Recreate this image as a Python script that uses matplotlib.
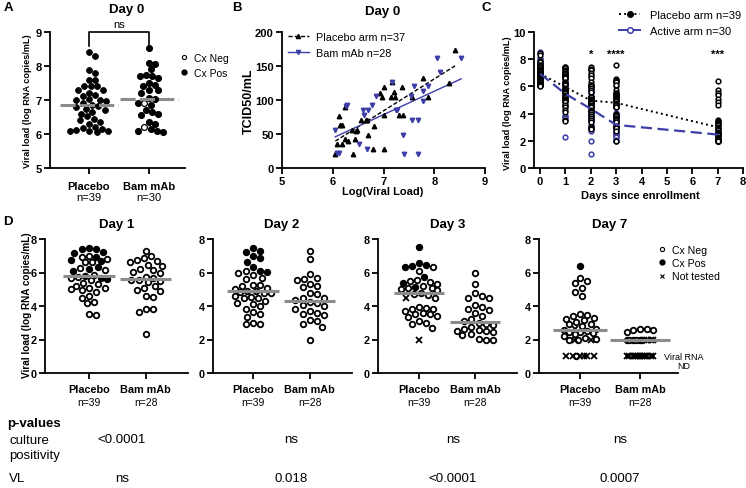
import numpy as np
import matplotlib
matplotlib.use("Agg")
import matplotlib.pyplot as plt
from matplotlib.lines import Line2D

plt.rcParams['font.family'] = ['Liberation Sans', 'DejaVu Sans']

W, H = 746, 489
BLUE = '#3d3da8'
GREY = '#8c8c8c'

# ---------------- data ----------------
groups = ["Placebo", "Bam mAb"]

# panel A, day 0 viral load (log RNA copies/mL)
a_placebo = [8.42, 8.3, 7.88, 7.8, 7.6, 7.58, 7.42, 7.42, 7.4, 7.3, 7.28, 7.22, 7.15,
             7.12, 7.02, 7.0, 7.0, 6.98, 6.92, 6.85, 6.82, 6.8, 6.75, 6.7, 6.65, 6.6,
             6.52, 6.45, 6.42, 6.35, 6.3, 6.2, 6.18, 6.15, 6.12, 6.1, 6.1, 6.08, 6.05]
a_placebo_cx = "P" * 39
a_bam = [8.52, 8.08, 8.05, 7.9, 7.75, 7.7, 7.7, 7.65, 7.5, 7.45, 7.4, 7.3, 7.28, 7.22,
         7.05, 7.02, 6.9, 6.92, 6.85, 6.7, 6.65, 6.6, 6.55, 6.35, 6.28, 6.2, 6.15, 6.1,
         6.08, 6.05]
a_bam_cx = "P" * 17 + "N" + "P" * 7 + "N" + "P" * 4
a_n = ["n=39", "n=30"]

# panel B, TCID50/mL vs log viral load
b_placebo_vl = [8.41, 8.29, 7.77, 7.87, 7.56, 7.36, 7.22, 7.15, 7.20, 7.17, 7.00, 6.97, 6.93,
                7.00, 7.30, 7.38, 6.82, 6.70, 7.00, 6.80, 6.65, 6.68, 6.55, 6.44, 6.48, 6.38,
                6.25, 6.18, 6.08, 6.12, 6.15, 6.19, 6.05, 6.40, 6.25, 6.45, 6.30]
b_placebo_tcid = [174, 125, 133, 105, 105, 119, 105, 105, 112, 126, 119, 105, 111,
                  78, 78, 78, 62, 49, 28, 28, 70, 70, 70, 43, 56, 56,
                  43, 35, 35, 77, 63, 63, 21, 21, 90, 55, 40]
b_bam_vl = [8.53, 8.05, 8.12, 7.88, 7.78, 7.78, 7.60, 7.55, 7.57, 7.68, 7.38, 7.40, 7.68,
            7.24, 7.27, 7.17, 6.85, 6.78, 6.70, 6.60, 6.62, 6.68, 6.52, 6.28, 6.26, 6.05,
            6.08, 6.12]
b_bam_tcid = [162, 162, 141, 120, 113, 99, 120, 106, 70, 70, 49, 21, 21,
              85, 85, 127, 106, 92, 85, 85, 78, 28, 35, 92, 91, 56,
              22, 22]

# panel D, days 1/2/3/7  (cx: P = culture pos, N = culture neg, X = not tested)
d1_placebo = [7.45, 7.42, 7.38, 7.2, 7.15, 7.0, 6.95, 6.9, 6.8, 6.75, 6.7, 6.65, 6.6, 6.3,
              6.25, 6.2, 6.15, 6.1, 5.85, 5.8, 5.75, 5.7, 5.65, 5.6, 5.55, 5.35, 5.3, 5.2,
              5.05, 5.05, 5.0, 4.95, 4.85, 4.6, 4.45, 4.25, 4.15, 3.5, 3.45]
d1_placebo_cx = "PPPPP" + "NPNNPPNNPNPNP" + "NPNPNPN" + "N" * 14
d1_bam = [7.3, 7.0, 6.85, 6.75, 6.7, 6.65, 6.45, 6.4, 6.2, 6.15, 6.05, 5.95, 5.75, 5.65,
          5.55, 5.55, 5.5, 5.45, 5.2, 5.05, 4.95, 4.9, 4.6, 4.55, 3.85, 3.8, 3.65, 2.3]
d1_bam_cx = "N" * 28

d2_placebo = [7.45, 7.3, 7.2, 7.0, 6.85, 6.65, 6.3, 6.1, 6.1, 6.05, 6.0, 5.85, 5.7, 5.6,
              5.25, 5.25, 5.2, 5.1, 5.0, 4.92, 4.9, 4.85, 4.8, 4.75, 4.6, 4.55, 4.5, 4.45,
              4.3, 4.2, 4.1, 4.0, 3.85, 3.65, 3.5, 3.35, 3.0, 2.95, 2.9]
d2_placebo_cx = "PPPPPPPP" + "N" + "P" + "N" * 29
d2_bam = [7.3, 6.8, 5.9, 5.65, 5.6, 5.55, 5.3, 5.2, 5.15, 4.75, 4.7, 4.5, 4.45, 4.35,
          4.25, 4.2, 4.05, 4.0, 3.85, 3.7, 3.6, 3.55, 3.45, 3.15, 3.1, 2.9, 2.75, 2.0]
d2_bam_cx = "N" * 28

d3_placebo = [7.55, 6.55, 6.45, 6.4, 6.35, 6.3, 6.1, 5.75, 5.55, 5.5, 5.45, 5.35, 5.3, 5.2,
              5.15, 5.1, 5.05, 5.0, 4.95, 4.8, 4.7, 4.65, 4.5, 4.45, 3.95, 3.9, 3.85, 3.8,
              3.7, 3.6, 3.55, 3.5, 3.4, 3.35, 3.1, 3.0, 2.95, 2.7, 2.0]
d3_placebo_cx = "PPPPNPNPNNNPNNP" + "N" * 7 + "X" + "N" * 15 + "X"
d3_bam = [6.0, 5.3, 4.75, 4.6, 4.5, 4.45, 4.05, 3.95, 3.85, 3.75, 3.6, 3.4, 3.2, 3.1,
          3.0, 2.95, 2.85, 2.75, 2.6, 2.55, 2.5, 2.5, 2.45, 2.3, 2.25, 2.05, 2.0, 2.0]
d3_bam_cx = "N" * 28

d7_placebo = [6.4, 5.7, 5.5, 5.35, 5.1, 4.85, 4.6, 3.5, 3.45, 3.4, 3.3, 3.2, 3.15, 3.05,
              2.95, 2.9, 2.8, 2.65, 2.6, 2.55, 2.5, 2.45, 2.45, 2.4, 2.3, 2.2, 2.1, 2.05,
              2.0, 2.0, 2.0, 2.0, 1.0, 1.0, 1.0, 1.0, 1.0, 1.0, 1.0]
d7_placebo_cx = "P" + "N" * 17 + "X" + "N" * 11 + "XX" + "XXXXXX" + "N"
d7_bam = [2.6, 2.6, 2.55, 2.55, 2.45] + [2.0] * 10 + [1.0] * 13
d7_bam_cx = "NNNNN" + "NXNXNXNXNN" + "X" * 13

d_days = ["Day 1", "Day 2", "Day 3", "Day 7"]
d_n = ["n=39", "n=28"]

# panel C, summary lines and extra point
c_days = [0, 1, 2, 3, 7]
c_placebo_trend = [6.93, 5.95, 4.96, 4.79, 3.0]
c_active_trend = [6.93, 5.45, 4.35, 3.17, 2.46]
c_day2_active_extra = [1.0]
c_stars = {2: "*", 3: "****", 7: "***"}

# p-value table
p_culture = ["<0.0001", "ns", "ns", "ns"]
p_vl = ["ns", "0.018", "<0.0001", "0.0007"]


# ---------------- helpers ----------------
def rect(l, t, r, b):
    return [l / W, 1 - b / H, (r - l) / W, (b - t) / H]


def style(ax, xt, yt, xl=None, yl=None, size=8):
    for s in ('top', 'right'):
        ax.spines[s].set_visible(False)
    for s in ('left', 'bottom'):
        ax.spines[s].set_linewidth(1.3)
    ax.tick_params(direction='out', length=4, width=1.3, pad=2)
    ax.set_xticks(xt)
    ax.set_xticklabels(xl if xl is not None else [str(v) for v in xt],
                       fontweight='bold', fontsize=size)
    ax.set_yticks(yt)
    ax.set_yticklabels(yl if yl is not None else [str(v) for v in yt],
                       fontweight='bold', fontsize=size)


def swarm_x(ax, center, vals, diam, half):
    tr = ax.transData
    vals = np.asarray(vals, float)
    pts = tr.transform(np.column_stack([np.full(len(vals), center), vals]))
    y_px = pts[:, 1]
    x0 = pts[0, 0]
    step = diam / 4
    cands = [0.0]
    for g in np.arange(step, half + 1e-6, step):
        cands += [g, -g]
    off = np.zeros(len(vals))
    done = []
    for i in np.argsort(-vals, kind='stable'):
        best, best_d = 0.0, -1.0
        for c in cands:
            d = min([np.hypot(c - off[j], y_px[i] - y_px[j]) for j in done], default=1e9)
            if d >= diam:
                best = c
                break
            if d > best_d:
                best, best_d = c, d
        off[i] = best
        done.append(i)
    return tr.inverted().transform(np.column_stack([x0 + off, y_px]))[:, 0]


def dots(ax, center, vals, cx, diam, half, ms, mew, line_ls='-', line_w=0.45):
    xs = swarm_x(ax, center, vals, diam, half)
    v = np.asarray(vals, float)
    codes = np.array(list(cx))
    styles = {'N': dict(marker='o', mfc='white', mec='k'),
              'P': dict(marker='o', mfc='k', mec='k'),
              'X': dict(marker='x', mec='k')}
    for code, kw in styles.items():
        m = codes == code
        if m.any():
            ax.plot(xs[m], v[m], ls='none', ms=ms if code != 'X' else ms + 0.6,
                    mew=mew, clip_on=False, zorder=3, **kw)
    med = np.median(v)
    ax.plot([center - line_w, center + line_w], [med, med], color=GREY, lw=2.2,
            ls=line_ls, zorder=4, solid_capstyle='butt')


def cat_labels(ax, ns, below_px, ax_h, size_n):
    for i, nn in enumerate(ns):
        ax.text(i, -below_px / ax_h, nn, transform=ax.get_xaxis_transform(),
                ha='center', va='center', fontsize=size_n)


fig = plt.figure(figsize=(W / 100, H / 100), dpi=100)

# ---------------- panel A ----------------
axA = fig.add_axes(rect(50, 33, 185, 169))
axA.set_xlim(-0.65, 1.6)
axA.set_ylim(5, 9)
style(axA, [0, 1], [5, 6, 7, 8, 9], xl=groups)
axA.tick_params(axis='x', pad=5)
dots(axA, 0, a_placebo, a_placebo_cx, 6.3, 19, 4.2, 0.6, line_ls=(0, (5, 1.3)), line_w=0.48)
dots(axA, 1, a_bam, a_bam_cx, 6.3, 19, 4.2, 0.9, line_ls=(0, (5, 1.3)), line_w=0.48)
cat_labels(axA, a_n, 29, 136, 8)
axA.plot([0, 0, 1, 1], [8.6, 9.0, 9.0, 8.6], color='k', lw=1.2, clip_on=False)
axA.text(0.5, 9.25, "ns", ha='center', va='center', fontsize=8)
axA.legend(handles=[Line2D([], [], ls='none', marker='o', mfc='white', mec='k', ms=3, mew=0.8),
                    Line2D([], [], ls='none', marker='o', mfc='k', mec='k', ms=3.5)],
           labels=["Cx Neg", "Cx Pos"], loc='upper left', bbox_to_anchor=(180 / W, 1 - 54 / H),
           bbox_transform=fig.transFigure, frameon=False, borderpad=0, borderaxespad=0,
           handlelength=0.8, handletextpad=0.5, labelspacing=0.45, fontsize=7.5)
fig.text(127 / W, 1 - 10 / H, "Day 0", ha='center', va='center', fontsize=9.5, fontweight='bold')
fig.text(28 / W, 1 - 101 / H, "Viral load (log RNA copies/mL)", rotation=90,
         ha='center', va='center', fontsize=6.6, fontweight='bold')

# ---------------- panel B ----------------
axB = fig.add_axes(rect(282, 33, 485, 169))
axB.set_xlim(5, 9)
axB.set_ylim(0, 200)
style(axB, [5, 6, 7, 8, 9], [0, 50, 100, 150, 200])
axB.plot(b_placebo_vl, b_placebo_tcid, ls='none', marker='^', color='k', ms=3.2, clip_on=False, zorder=3)
axB.plot(b_bam_vl, b_bam_tcid, ls='none', marker='v', color=BLUE, ms=3.2, clip_on=False, zorder=3)
for xs, ys, col, ls in ((b_placebo_vl, b_placebo_tcid, 'k', (0, (3, 1.5))),
                        (b_bam_vl, b_bam_tcid, BLUE, '-')):
    k, c0 = np.polyfit(xs, ys, 1)
    xr = np.array([min(xs), max(xs)])
    axB.plot(xr, k * xr + c0, color=col, ls=ls, lw=1.0, zorder=2)
axB.legend(handles=[Line2D([], [], color='k', ls=(0, (3, 1.5)), lw=1, marker='^', ms=3),
                    Line2D([], [], color=BLUE, ls='-', lw=1, marker='v', ms=3)],
           labels=["Placebo arm n=37", "Bam mAb n=28"], loc='upper left',
           bbox_to_anchor=(288 / W, 1 - 33 / H), bbox_transform=fig.transFigure,
           frameon=False, borderpad=0, borderaxespad=0, handlelength=1.9,
           handletextpad=0.7, labelspacing=0.55, fontsize=7.8)
fig.text(383 / W, 1 - 12 / H, "Day 0", ha='center', va='center', fontsize=9.5, fontweight='bold')
fig.text(383 / W, 1 - 192 / H, "Log(Viral Load)", ha='center', va='center', fontsize=8, fontweight='bold')
fig.text(249 / W, 1 - 101 / H, "TCID50/mL", rotation=90, ha='center', va='center',
         fontsize=9, fontweight='bold')

# ---------------- panel C ----------------
axC = fig.add_axes(rect(534, 33, 743, 169))
axC.set_xlim(-0.24, 8)
axC.set_ylim(0, 10)
style(axC, list(range(9)), [0, 2, 4, 6, 8, 10])
c_placebo_cols = [a_placebo, d1_placebo, d2_placebo, d3_placebo,
                  [v for v in d7_placebo if v > 1.0]]
c_active_cols = [a_bam, d1_bam, d2_bam + c_day2_active_extra, d3_bam,
                 [v for v in d7_bam if v > 1.0]]
for day, col in zip(c_days, c_active_cols):
    axC.plot([day] * len(col), col, ls='none', marker='o', mfc='white', mec=BLUE,
             ms=3.4, mew=1.1, clip_on=False, zorder=2)
for day, col in zip(c_days, c_placebo_cols):
    axC.plot([day] * len(col), col, ls='none', marker='o', mfc='white', mec='k',
             ms=3.4, mew=1.1, clip_on=False, zorder=3)
axC.plot(c_days, c_placebo_trend, color='k', ls=':', lw=1.4, zorder=5)
axC.plot(c_days, c_active_trend, color=BLUE, ls=(0, (5, 2.5)), lw=1.6, zorder=5)
for d, s in c_stars.items():
    axC.text(d, 8.4, s, ha='center', va='center', fontsize=8, fontweight='bold')
axC.legend(handles=[Line2D([], [], color='k', ls=':', lw=1.4, marker='o', mfc='k', mec='k', ms=4),
                    Line2D([], [], color=BLUE, ls='-', lw=1.4, marker='o', mfc='white', mec=BLUE,
                           ms=4, mew=1.1)],
           labels=["Placebo arm n=39", "Active arm n=30"], loc='upper left',
           bbox_to_anchor=(619 / W, 1 - 11 / H), bbox_transform=fig.transFigure,
           frameon=False, borderpad=0, borderaxespad=0, handlelength=1.9,
           handletextpad=0.9, labelspacing=0.5, fontsize=8)
fig.text(640 / W, 1 - 196 / H, "Days since enrollment", ha='center', va='center',
         fontsize=8, fontweight='bold')
fig.text(508 / W, 1 - 103 / H, "Viral load (log RNA copies/mL)", rotation=90,
         ha='center', va='center', fontsize=6.6, fontweight='bold')

# ---------------- panel D ----------------
d_rects = [(45, 188, -0.77, 1.74), (213, 352, -0.70, 1.74),
           (378, 517, -0.73, 1.75), (539, 678, -0.68, 1.63)]
d_title_x = [117, 282, 448, 610]
d_data = [(d1_placebo, d1_placebo_cx, d1_bam, d1_bam_cx),
          (d2_placebo, d2_placebo_cx, d2_bam, d2_bam_cx),
          (d3_placebo, d3_placebo_cx, d3_bam, d3_bam_cx),
          (d7_placebo, d7_placebo_cx, d7_bam, d7_bam_cx)]
for k, ((l, r, x0, x1), title, (pv, pc, bv, bc)) in enumerate(zip(d_rects, d_days, d_data)):
    ax = fig.add_axes(rect(l, 240, r, 374))
    ax.set_xlim(x0, x1)
    ax.set_ylim(0, 8)
    style(ax, [0, 1], [0, 2, 4, 6, 8], xl=groups, size=7.8)
    ax.tick_params(axis='x', pad=4)
    half_p, half_b = (17, 14) if k == 3 else (19, 19)
    dots(ax, 0, pv, pc, 7.2, half_p, 4.0, 1.3)
    dots(ax, 1, bv, bc, 7.2, half_b, 4.0, 1.3, line_w=0.5 if k == 3 else 0.45)
    cat_labels(ax, d_n, 29, 134, 7.5)
    fig.text(d_title_x[k] / W, 1 - 225 / H, title, ha='center', va='center',
             fontsize=9.5, fontweight='bold')
    if k == 3:
        ax.legend(handles=[Line2D([], [], ls='none', marker='o', mfc='white', mec='k', ms=3, mew=0.8),
                           Line2D([], [], ls='none', marker='o', mfc='k', mec='k', ms=3.5),
                           Line2D([], [], ls='none', marker='x', mec='k', ms=3.5, mew=0.8)],
                  labels=["Cx Neg", "Cx Pos", "Not tested"], loc='upper left',
                  bbox_to_anchor=(658 / W, 1 - 246 / H), bbox_transform=fig.transFigure,
                  frameon=False, borderpad=0, borderaxespad=0, handlelength=0.8,
                  handletextpad=0.5, labelspacing=0.3, fontsize=7.6)
        fig.text(684 / W, 1 - 362 / H, "Viral RNA\nND", ha='center', va='center',
                 fontsize=6.5, linespacing=1.1)

fig.text(27 / W, 1 - 305 / H, "Viral load (log RNA copies/mL)", rotation=90,
         ha='center', va='center', fontsize=7.2, fontweight='bold')

# panel letters
for lab, x, y in (("A", 8, 8), ("B", 237, 8), ("C", 486, 8), ("D", 8, 222)):
    fig.text(x / W, 1 - y / H, lab, ha='center', va='center', fontsize=9.5, fontweight='bold')

# ---------------- p-value table ----------------
col_x = [122, 291, 453, 620]
fig.text(7 / W, 1 - 424 / H, "p-values", ha='left', va='center', fontsize=9.5, fontweight='bold')
fig.text(9 / W, 1 - 441 / H, "culture", ha='left', va='center', fontsize=9.5)
fig.text(9 / W, 1 - 456 / H, "positivity", ha='left', va='center', fontsize=9.5)
fig.text(9 / W, 1 - 479 / H, "VL", ha='left', va='center', fontsize=9.5)
for x, pc, pv in zip(col_x, p_culture, p_vl):
    fig.text(x / W, 1 - 440 / H, pc, ha='center', va='center', fontsize=9.5)
    fig.text(x / W, 1 - 479 / H, pv, ha='center', va='center', fontsize=9.5)

fig.savefig("out.png", dpi=100)
